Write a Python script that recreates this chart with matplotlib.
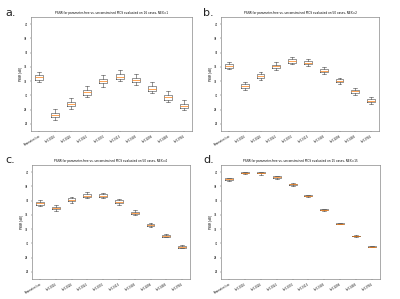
import matplotlib
matplotlib.use("Agg")
import matplotlib.pyplot as plt

labels = ["Parameter-free", "λ=0.0016", "λ=0.0026", "λ=0.0042", "λ=0.0070",
          "λ=0.0113", "λ=0.0183", "λ=0.0298", "λ=0.0483", "λ=0.0785"]
yticks = [26, 28, 30, 32, 34, 36, 38, 40]

titles = [
    "PSNR for parameter-free vs. unconstrained PICS evaluated on 16 cases, NEX=1",
    "PSNR for parameter-free vs. unconstrained PICS evaluated on 50 cases, NEX=2",
    "PSNR for parameter-free vs. unconstrained PICS evaluated on 50 cases, NEX=4",
    "PSNR for parameter-free vs. unconstrained PICS evaluated on 15 cases, NEX=15",
]
panel_letters = ["a.", "b.", "c.", "d."]

# box stats per panel: whislo, q1, med, q3, whishi
a_lo  = [31.93, 26.60, 28.10, 29.73, 31.18, 31.97, 31.46, 30.30, 29.08, 27.91]
a_q1  = [32.20, 26.98, 28.47, 30.10, 31.70, 32.30, 31.83, 30.62, 29.41, 28.24]
a_med = [32.53, 27.26, 28.80, 30.43, 32.00, 32.63, 32.10, 30.95, 29.73, 28.57]
a_q3  = [32.86, 27.54, 29.08, 30.80, 32.35, 32.95, 32.44, 31.27, 30.06, 28.80]
a_hi  = [33.33, 28.15, 29.64, 31.30, 32.81, 33.56, 33.00, 31.88, 30.62, 29.41]

b_lo  = [33.65, 30.80, 32.20, 33.50, 34.35, 34.07, 32.95, 31.55, 30.06, 28.75]
b_q1  = [33.89, 31.10, 32.50, 33.84, 34.60, 34.35, 33.23, 31.83, 30.30, 29.03]
b_med = [34.17, 31.32, 32.72, 34.07, 34.82, 34.60, 33.47, 32.00, 30.57, 29.27]
b_q3  = [34.40, 31.55, 32.95, 34.30, 35.05, 34.80, 33.70, 32.25, 30.76, 29.50]
b_hi  = [34.73, 31.83, 33.33, 34.73, 35.43, 35.10, 34.00, 32.50, 31.00, 29.73]

c_lo  = [35.30, 34.60, 35.73, 36.38, 36.30, 35.45, 34.00, 32.32, 30.85, 29.30]
c_q1  = [35.45, 34.80, 35.92, 36.57, 36.52, 35.63, 34.13, 32.40, 30.90, 29.40]
c_med = [35.68, 34.98, 36.15, 36.71, 36.67, 35.82, 34.27, 32.54, 30.99, 29.53]
c_q3  = [35.87, 35.17, 36.38, 36.90, 36.90, 36.02, 34.45, 32.68, 31.14, 29.67]
c_hi  = [36.06, 35.35, 36.57, 37.18, 37.10, 36.25, 34.65, 32.82, 31.27, 29.77]

d_lo  = [38.76, 39.67, 39.62, 39.10, 38.12, 36.48, 34.60, 32.70, 30.96, 29.46]
d_q1  = [38.90, 39.81, 39.81, 39.24, 38.21, 36.58, 34.65, 32.72, 30.99, 29.48]
d_med = [39.01, 39.90, 39.90, 39.34, 38.31, 36.67, 34.74, 32.77, 31.03, 29.53]
d_q3  = [39.13, 39.95, 39.95, 39.43, 38.40, 36.76, 34.83, 32.82, 31.08, 29.58]
d_hi  = [39.23, 39.98, 40.00, 39.48, 38.45, 36.81, 34.88, 32.86, 31.12, 29.62]

panels = [
    (a_lo, a_q1, a_med, a_q3, a_hi),
    (b_lo, b_q1, b_med, b_q3, b_hi),
    (c_lo, c_q1, c_med, c_q3, c_hi),
    (d_lo, d_q1, d_med, d_q3, d_hi),
]

fig = plt.figure(figsize=(4.0, 2.99), dpi=100)

# axes rectangles in pixels: left, top, right, bottom
rects = [(31, 17, 192, 131), (221, 17, 379, 131), (32, 165, 190, 279), (221, 165, 380, 279)]
letter_pos = [(5, 8), (203, 8), (5, 155), (203, 155)]

for k, (lo, q1, med, q3, hi) in enumerate(panels):
    l, t, r, b = rects[k]
    ax = fig.add_axes([l / 400, 1 - b / 299, (r - l) / 400, (b - t) / 299])
    stats = []
    for i in range(len(labels)):
        stats.append(dict(whislo=lo[i], q1=q1[i], med=med[i], q3=q3[i], whishi=hi[i], fliers=[]))
    ax.bxp(stats, showfliers=False, widths=0.5,
           boxprops=dict(color="#444444", linewidth=0.4),
           whiskerprops=dict(color="#444444", linewidth=0.4),
           capprops=dict(color="#444444", linewidth=0.4),
           medianprops=dict(color="#ff7f0e", linewidth=0.5))
    ax.set_ylim(25, 41)
    ax.set_yticks(yticks)
    ax.set_yticklabels([str(v) for v in yticks], fontsize=1.8)
    ax.set_xticks(range(1, len(labels) + 1))
    ax.set_xticklabels(labels, rotation=30, ha="right", fontsize=1.8, rotation_mode="anchor")
    ax.tick_params(length=1, width=0.3, pad=1.5, color="#444444")
    ax.set_ylabel("PSNR [dB]", fontsize=2, labelpad=1.5)
    ax.set_title(titles[k], fontsize=2.1, pad=2)
    for s in ax.spines.values():
        s.set_linewidth(0.5)
        s.set_color("#888888")
    fig.text(letter_pos[k][0] / 400, 1 - letter_pos[k][1] / 299, panel_letters[k],
             fontsize=8, va="top", ha="left", color="#222222")

fig.savefig("out.png", dpi=100)
